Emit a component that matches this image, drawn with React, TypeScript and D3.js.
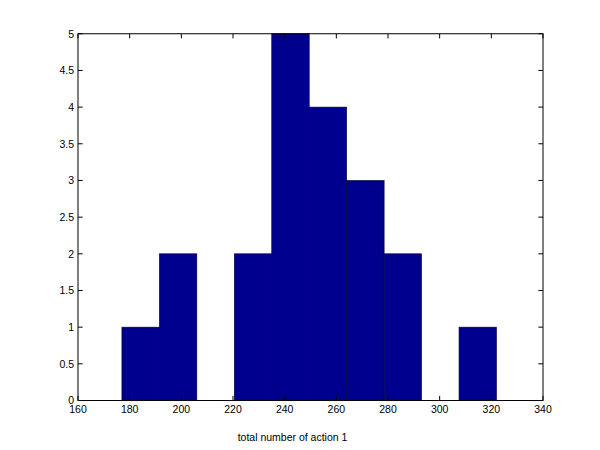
import React from "react";
import * as d3 from "d3";

const binEdges = [177, 191.5, 206, 220.5, 235, 249.5, 264, 278.5, 293, 307.5, 322];
const counts = [1, 2, 0, 2, 5, 4, 3, 2, 0, 1];
const xTicks = [160, 180, 200, 220, 240, 260, 280, 300, 320, 340];
const yTicks = [0, 0.5, 1, 1.5, 2, 2.5, 3, 3.5, 4, 4.5, 5];
const xLabel = "total number of action 1";

export default function App() {
  const W = 600, H = 450;
  const left = 78, right = 543, top = 33.75, bottom = 400.5;
  const x = d3.scaleLinear().domain([160, 340]).range([left, right]);
  const y = d3.scaleLinear().domain([0, 5]).range([bottom, top]);
  const tl = 4.65;
  const font = "'Liberation Sans', Arial, Helvetica, sans-serif";
  const bins = counts.map((c, i) => ({ x0: binEdges[i], x1: binEdges[i + 1], c }));
  return (
    <svg width={W} height={H} style={{ position: "absolute", left: 0, top: 0, background: "#fff" }}>
      <rect x={0} y={0} width={W} height={H} fill="#fff" />
      {bins.filter(b => b.c > 0).map((b, i) => (
        <rect key={i} x={x(b.x0)} y={y(b.c)} width={x(b.x1) - x(b.x0)} height={y(0) - y(b.c)}
          fill="#00008f" stroke="#000033" strokeWidth={0.6} />
      ))}
      <g stroke="#000" strokeWidth={1} fill="none">
        <rect x={left} y={top} width={right - left} height={bottom - top} />
        {xTicks.map(t => (
          <g key={t}>
            <line x1={x(t)} x2={x(t)} y1={bottom} y2={bottom - tl} />
            <line x1={x(t)} x2={x(t)} y1={top} y2={top + tl} />
          </g>
        ))}
        {yTicks.map(t => (
          <g key={t}>
            <line x1={left} x2={left + tl} y1={y(t)} y2={y(t)} />
            <line x1={right} x2={right - tl} y1={y(t)} y2={y(t)} />
          </g>
        ))}
      </g>
      <g fontFamily={font} fontSize={10.5} fill="#000">
        {xTicks.map(t => (
          <text key={t} x={x(t)} y={bottom + 12.5} textAnchor="middle">{t}</text>
        ))}
        {yTicks.map(t => (
          <text key={t} x={left - 4} y={y(t) + 3.8} textAnchor="end">{t}</text>
        ))}
        <text x={292.5} y={441} textAnchor="middle">{xLabel}</text>
      </g>
    </svg>
  );
}
